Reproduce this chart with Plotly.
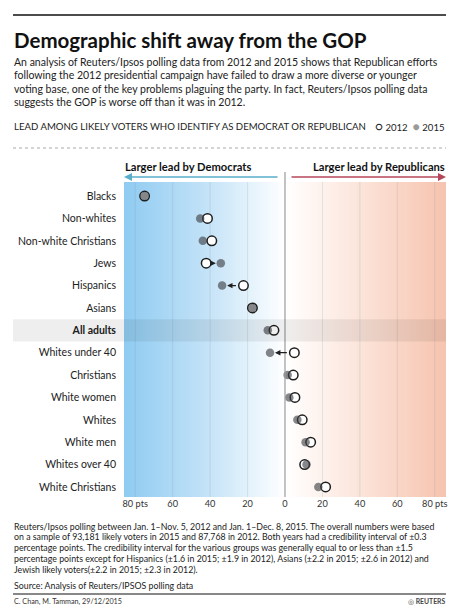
import numpy as np
import plotly.graph_objects as go

# ---------------- data ----------------
groups = ["Blacks", "Non-whites", "Non-white Christians", "Jews", "Hispanics", "Asians",
          "All adults", "Whites under 40", "Christians", "White women", "Whites",
          "White men", "Whites over 40", "White Christians"]
lead_2012 = [-75.0, -41.4, -39.1, -42.1, -22.2, -17.4, -5.9, 5.0, 4.4, 5.3, 9.2, 13.7, 10.5, 21.7]
lead_2015 = [-75.0, -45.3, -43.9, -34.3, -33.6, -17.4, -9.2, -8.0, 1.4, 2.3, 6.6, 11.0, 11.5, 17.8]
tick_vals = [-80, -60, -40, -20, 0, 20, 40, 60, 80]
tick_text = ["80 pts", "60", "40", "20", "0", "20", "40", "60", "80 pts"]
highlight = "All adults"

subtitle_lines = [
    "An analysis of Reuters/Ipsos polling data from 2012 and 2015 shows that Republican efforts",
    "following the 2012 presidential campaign have failed to draw a more diverse or younger",
    "voting base, one of the key problems plaguing the party. In fact, Reuters/Ipsos polling data",
    "suggests the GOP is worse off than it was in 2012.",
]
note_lines = [
    "Reuters/Ipsos polling between Jan. 1–Nov. 5, 2012 and Jan. 1–Dec. 8, 2015. The overall numbers were based",
    "on a sample of 93,181 likely voters in 2015 and 87,768 in 2012. Both years had a credibility interval of ±0.3",
    "percentage points. The credibility interval for the various groups was generally equal to or less than ±1.5",
    "percentage points except for Hispanics (±1.6 in 2015; ±1.9 in 2012), Asians (±2.2 in 2015; ±2.6 in 2012) and",
    "Jewish likely voters(±2.2 in 2015; ±2.3 in 2012).",
]

# ---------------- layout helpers ----------------
FW, FH = 460, 607
L, T, R, B = 124, 182, 446, 497
W, H = R - L, B - T
FONT = "Lato"


def px(x):
    return (x - L) / W


def py(y):
    return (B - y) / H


XR = 86
rows = list(range(len(groups)))

fig = go.Figure()

# background gradient
xs = np.linspace(-XR, XR, 2 * XR + 1)
fig.add_trace(go.Heatmap(
    x=xs, y=[-1, len(groups)], z=[xs, xs], zmin=-XR, zmax=XR, zsmooth="best",
    colorscale=[[0, "#8fcbf1"], [0.25, "#c2e2f7"], [0.5, "#ffffff"], [0.75, "#fbe2d7"], [1, "#f6c3ae"]],
    showscale=False, hoverinfo="skip"))

# vertical gridlines
gx, gy = [], []
for v in tick_vals:
    if v == 0:
        continue
    gx += [v, v, None]
    gy += [-1, len(groups), None]
fig.add_trace(go.Scatter(x=gx, y=gy, mode="lines", line=dict(color="rgba(110,130,150,0.17)", width=1),
                         hoverinfo="skip", showlegend=False))

# 2012 open circles
fig.add_trace(go.Scatter(x=lead_2012, y=rows, mode="markers", name="2012",
                         marker=dict(size=9.5, color="white", line=dict(color="#1e1e1e", width=1.5)),
                         showlegend=False))
# 2015 filled dots
fig.add_trace(go.Scatter(x=lead_2015, y=rows, mode="markers", name="2015",
                         marker=dict(size=8.5, color="rgba(60,62,66,0.62)", line=dict(width=0)),
                         showlegend=False))

annotations = []
# change arrows for large shifts
for i, (a, b) in enumerate(zip(lead_2012, lead_2015)):
    if abs(b - a) >= 6:
        annotations.append(dict(x=b, y=i, ax=a, ay=i, xref="x", yref="y", axref="x", ayref="y",
                                text="", showarrow=True, arrowhead=2, arrowsize=0.9, arrowwidth=1.2,
                                arrowcolor="#1e1e1e", standoff=5, startstandoff=6))


def text(x, y, s, size, color="#222", bold=False, anchor="left"):
    if bold:
        s = "<b>" + s + "</b>"
    annotations.append(dict(x=px(x), y=py(y), xref="paper", yref="paper", text=s, showarrow=False,
                            xanchor=anchor, yanchor="middle", font=dict(family=FONT, size=size, color=color)))


text(12, 40, "Demographic shift away from the GOP", 20.5, "#111", bold=True)
for k, line in enumerate(subtitle_lines):
    text(12, 62 + k * 13.3, line, 10.5, "#222")
text(12, 127, "LEAD AMONG LIKELY VOTERS WHO IDENTIFY AS DEMOCRAT OR REPUBLICAN", 9.6, "#222")
text(447, 127, "<span style='font-size:12px'>○</span> 2012  "
               "<span style='font-size:12px;color:#9a9a9a'>●</span> 2015", 9.6, "#222", anchor="right")
text(123, 166, "Larger lead by Democrats", 11.2, "#111", bold=True)
text(447, 166, "Larger lead by Republicans", 11.2, "#111", bold=True, anchor="right")
for k, line in enumerate(note_lines):
    text(12, 526 + k * 10.9, line, 8.8, "#222")
text(12, 585, "Source: Analysis of Reuters/IPSOS polling data", 8.8, "#222")
text(12, 601, "C. Chan, M. Tamman, 29/12/2015", 7.2, "#333")
text(447, 601, "◎ <b>REUTERS</b>", 6.8, "#444", anchor="right")

# header arrows
annotations.append(dict(x=px(124), y=py(177), xref="paper", yref="paper", ax=279 - 124, ay=0,
                        text="", showarrow=True, arrowhead=2, arrowsize=1, arrowwidth=1.6,
                        arrowcolor="#5aaecb"))
annotations.append(dict(x=px(446), y=py(177), xref="paper", yref="paper", ax=290 - 446, ay=0,
                        text="", showarrow=True, arrowhead=2, arrowsize=1, arrowwidth=1.6,
                        arrowcolor="#b6475b"))

shapes = [
    dict(type="line", xref="paper", yref="paper", x0=px(13), x1=px(446), y0=py(15), y1=py(15),
         line=dict(color="#111", width=1.5)),
    dict(type="line", xref="paper", yref="paper", x0=px(13), x1=px(446), y0=py(148), y1=py(148),
         line=dict(color="#aaa", width=1, dash="dot")),
    dict(type="line", xref="paper", yref="paper", x0=px(13), x1=px(446), y0=py(594), y1=py(594),
         line=dict(color="#111", width=1)),
    dict(type="line", xref="x", yref="paper", x0=0, x1=0, y0=0, y1=py(172),
         line=dict(color="#9a9a9a", width=1.2)),
    dict(type="rect", xref="paper", yref="y", x0=px(13), x1=1, y0=groups.index(highlight) - 0.5,
         y1=groups.index(highlight) + 0.5, fillcolor="rgba(0,0,0,0.065)", line=dict(width=0),
         layer="above"),
]

ticktext_y = ["<b>" + g + "</b>" if g == highlight else g for g in groups]

fig.update_layout(
    width=FW, height=FH,
    margin=dict(l=L, r=FW - R, t=T, b=FH - B, pad=0),
    paper_bgcolor="white", plot_bgcolor="white",
    font=dict(family=FONT, color="#222"),
    xaxis=dict(range=[-XR, XR], tickvals=tick_vals, ticktext=tick_text, showgrid=False,
               zeroline=False, showline=False, ticks="", tickfont=dict(size=9.2, color="#333"),
               fixedrange=True),
    yaxis=dict(range=[len(groups) - 0.55, -0.63], tickvals=rows, ticktext=ticktext_y,
               showgrid=False, zeroline=False, showline=False, ticks="",
               tickfont=dict(size=10.5, color="#222"), ticklabelstandoff=7, fixedrange=True),
    annotations=annotations,
    shapes=shapes,
    showlegend=False,
)

fig.write_html("out.html", config={"displayModeBar": False},
               post_script="document.body.style.margin='0';document.body.style.overflow='hidden';")
